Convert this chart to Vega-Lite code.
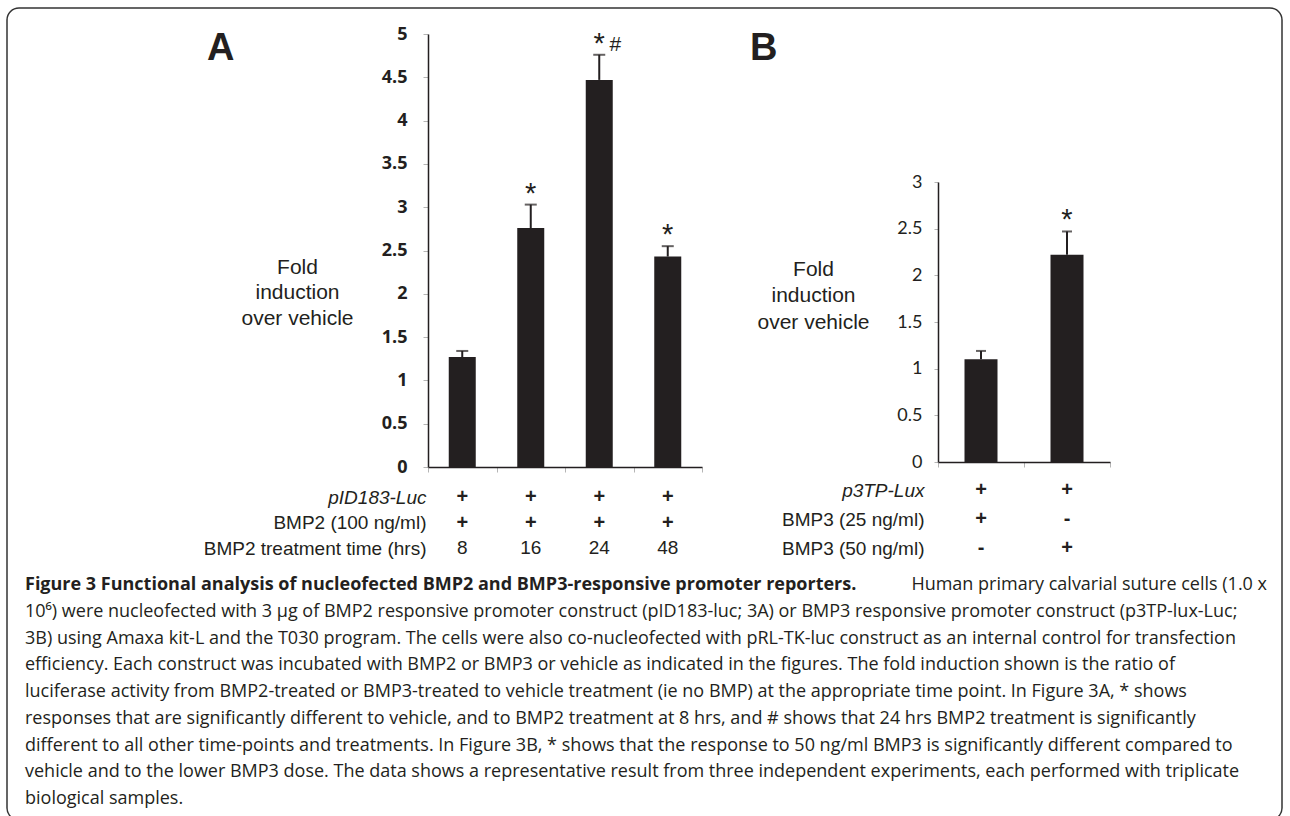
{
  "$schema": "https://vega.github.io/schema/vega-lite/v6.json",
  "width": 1275,
  "height": 812,
  "autosize": {"type": "none"},
  "padding": {"left": 7, "top": 8, "right": 8, "bottom": -4},
  "background": "#ffffff",
  "config": {
    "view": {"stroke": "#333333", "strokeWidth": 1.5, "cornerRadius": 12},
    "axis": {"grid": false, "domainColor": "#231f20", "domainWidth": 1.5, "tickColor": "#b5b5b5", "tickWidth": 1, "labelColor": "#231f20", "titleColor": "#231f20"},
    "text": {"color": "#231f20"}
  },
  "datasets": {
    "bmp2": [
      {"time": "8", "fold": 1.27, "upper": 1.34, "sig": "", "sig2": ""},
      {"time": "16", "fold": 2.76, "upper": 3.03, "sig": "*", "sig2": ""},
      {"time": "24", "fold": 4.47, "upper": 4.76, "sig": "*", "sig2": "#"},
      {"time": "48", "fold": 2.43, "upper": 2.55, "sig": "*", "sig2": ""}
    ],
    "bmp3": [
      {"dose": "25 ng/ml", "fold": 1.10, "upper": 1.19, "sig": ""},
      {"dose": "50 ng/ml", "fold": 2.22, "upper": 2.47, "sig": "*"}
    ],
    "tableA": [
      {"row": "pID183-Luc", "time": "8", "value": "+"},
      {"row": "pID183-Luc", "time": "16", "value": "+"},
      {"row": "pID183-Luc", "time": "24", "value": "+"},
      {"row": "pID183-Luc", "time": "48", "value": "+"},
      {"row": "BMP2 (100 ng/ml)", "time": "8", "value": "+"},
      {"row": "BMP2 (100 ng/ml)", "time": "16", "value": "+"},
      {"row": "BMP2 (100 ng/ml)", "time": "24", "value": "+"},
      {"row": "BMP2 (100 ng/ml)", "time": "48", "value": "+"},
      {"row": "BMP2 treatment time (hrs)", "time": "8", "value": "8"},
      {"row": "BMP2 treatment time (hrs)", "time": "16", "value": "16"},
      {"row": "BMP2 treatment time (hrs)", "time": "24", "value": "24"},
      {"row": "BMP2 treatment time (hrs)", "time": "48", "value": "48"}
    ],
    "tableB": [
      {"row": "p3TP-Lux", "dose": "25 ng/ml", "value": "+"},
      {"row": "p3TP-Lux", "dose": "50 ng/ml", "value": "+"},
      {"row": "BMP3 (25 ng/ml)", "dose": "25 ng/ml", "value": "+"},
      {"row": "BMP3 (25 ng/ml)", "dose": "50 ng/ml", "value": "-"},
      {"row": "BMP3 (50 ng/ml)", "dose": "25 ng/ml", "value": "-"},
      {"row": "BMP3 (50 ng/ml)", "dose": "50 ng/ml", "value": "+"}
    ],
    "panels": [{"panel": "A"}, {"panel": "B"}],
    "captionLead": [
      {"line": 1, "text": "Figure 3 Functional analysis of nucleofected BMP2 and BMP3-responsive promoter reporters."}
    ],
    "captionEnd": [
      {"line": 1, "text": "Human primary calvarial suture cells (1.0 x"}
    ],
    "captionBody": [
      {"line": 2, "text": "10⁶) were nucleofected with 3 µg of BMP2 responsive promoter construct (pID183-luc; 3A) or BMP3 responsive promoter construct (p3TP-lux-Luc;"},
      {"line": 3, "text": "3B) using Amaxa kit-L and the T030 program. The cells were also co-nucleofected with pRL-TK-luc construct as an internal control for transfection"},
      {"line": 4, "text": "efficiency. Each construct was incubated with BMP2 or BMP3 or vehicle as indicated in the figures. The fold induction shown is the ratio of"},
      {"line": 5, "text": "luciferase activity from BMP2-treated or BMP3-treated to vehicle treatment (ie no BMP) at the appropriate time point. In Figure 3A, * shows"},
      {"line": 6, "text": "responses that are significantly different to vehicle, and to BMP2 treatment at 8 hrs, and # shows that 24 hrs BMP2 treatment is significantly"},
      {"line": 7, "text": "different to all other time-points and treatments. In Figure 3B, * shows that the response to 50 ng/ml BMP3 is significantly different compared to"},
      {"line": 8, "text": "vehicle and to the lower BMP3 dose. The data shows a representative result from three independent experiments, each performed with triplicate"},
      {"line": 9, "text": "biological samples."}
    ]
  },
  "layer": [
    {
      "data": {"name": "bmp2"},
      "encoding": {
        "x": {
          "field": "time", "type": "ordinal", "sort": ["8", "16", "24", "48"],
          "scale": {"domain": ["8", "16", "24", "48"], "range": [421, 695], "paddingInner": 0, "paddingOuter": 0},
          "axis": {"orient": "bottom", "offset": -353, "labels": false, "title": null, "tickSize": 5, "tickBand": "extent"}
        }
      },
      "layer": [
        {
          "mark": {"type": "bar", "color": "#231f20", "width": 27},
          "encoding": {
            "y": {
              "field": "fold", "type": "quantitative",
              "scale": {"domain": [0, 5], "range": [459, 26], "nice": false, "zero": true},
              "axis": {
                "orient": "left", "offset": -421,
                "values": [0, 0.5, 1, 1.5, 2, 2.5, 3, 3.5, 4, 4.5, 5], "format": "~g",
                "labelFont": "Open Sans", "labelFontWeight": "bold", "labelFontSize": 18,
                "tickSize": 5, "labelPadding": 16,
                "title": ["Fold", "induction", "over vehicle"],
                "titleFont": "Liberation Sans", "titleFontSize": 21, "titleFontWeight": "normal",
                "titleAngle": 0, "titleAlign": "center", "titleBaseline": "middle",
                "titleX": -131, "titleY": 259, "titleLineHeight": 25.5
              }
            }
          }
        },
        {
          "mark": {"type": "rule", "color": "#231f20", "strokeWidth": 2},
          "encoding": {"y": {"field": "fold", "type": "quantitative"}, "y2": {"field": "upper"}}
        },
        {
          "mark": {"type": "tick", "color": "#231f20", "thickness": 2, "size": 12},
          "encoding": {"y": {"field": "upper", "type": "quantitative"}}
        },
        {
          "mark": {"type": "text", "font": "Liberation Sans", "fontSize": 29, "baseline": "alphabetic", "dy": -2},
          "encoding": {"y": {"field": "upper", "type": "quantitative"}, "text": {"field": "sig"}}
        },
        {
          "mark": {"type": "text", "font": "Liberation Sans", "fontSize": 21, "baseline": "alphabetic", "dx": 16, "dy": -4},
          "encoding": {"y": {"field": "upper", "type": "quantitative"}, "text": {"field": "sig2"}}
        }
      ]
    },
    {
      "data": {"name": "tableA"},
      "encoding": {
        "x": {
          "field": "time", "type": "ordinal",
          "scale": {"domain": ["8", "16", "24", "48"], "range": [421, 695], "paddingInner": 0, "paddingOuter": 0},
          "axis": null
        },
        "y": {
          "field": "row", "type": "ordinal",
          "scale": {"type": "point", "domain": ["pID183-Luc", "BMP2 (100 ng/ml)", "BMP2 treatment time (hrs)"], "range": [489, 540], "padding": 0},
          "axis": {
            "orient": "left", "offset": -421, "domain": false, "ticks": false, "tickSize": 0, "title": null,
            "labelFont": "Liberation Sans", "labelFontSize": 19, "labelPadding": 2, "labelLimit": 400,
            "labelFontStyle": {"condition": {"test": "datum.value === 'pID183-Luc'", "value": "italic"}, "value": "normal"}
          }
        },
        "text": {"field": "value"}
      },
      "layer": [
        {
          "transform": [{"filter": "datum.value === '+' || datum.value === '-'"}],
          "mark": {"type": "text", "font": "Liberation Sans", "fontSize": 20, "fontWeight": "bold", "baseline": "middle"}
        },
        {
          "transform": [{"filter": "datum.value !== '+' && datum.value !== '-'"}],
          "mark": {"type": "text", "font": "Liberation Sans", "fontSize": 19, "baseline": "middle"}
        }
      ]
    },
    {
      "data": {"name": "bmp3"},
      "encoding": {
        "x": {
          "field": "dose", "type": "ordinal",
          "scale": {"domain": ["25 ng/ml", "50 ng/ml"], "range": [931, 1103], "paddingInner": 0, "paddingOuter": 0},
          "axis": {"orient": "bottom", "offset": -358, "labels": false, "title": null, "tickSize": 5, "tickBand": "extent"}
        }
      },
      "layer": [
        {
          "mark": {"type": "bar", "color": "#231f20", "width": 33},
          "encoding": {
            "y": {
              "field": "fold", "type": "quantitative",
              "scale": {"domain": [0, 3], "range": [454, 174], "nice": false, "zero": true},
              "axis": {
                "orient": "left", "offset": -931,
                "values": [0, 0.5, 1, 1.5, 2, 2.5, 3], "format": "~g",
                "labelFont": "Lato", "labelFontWeight": "normal", "labelFontSize": 18,
                "tickSize": 4, "labelPadding": 12,
                "title": ["Fold", "induction", "over vehicle"],
                "titleFont": "Liberation Sans", "titleFontSize": 21, "titleFontWeight": "normal",
                "titleAngle": 0, "titleAlign": "center", "titleBaseline": "middle",
                "titleX": -125, "titleY": 261, "titleLineHeight": 26.5
              }
            }
          }
        },
        {
          "mark": {"type": "rule", "color": "#231f20", "strokeWidth": 2},
          "encoding": {"y": {"field": "fold", "type": "quantitative"}, "y2": {"field": "upper"}}
        },
        {
          "mark": {"type": "tick", "color": "#231f20", "thickness": 2, "size": 10},
          "encoding": {"y": {"field": "upper", "type": "quantitative"}}
        },
        {
          "mark": {"type": "text", "font": "Liberation Sans", "fontSize": 29, "baseline": "alphabetic", "dy": -2},
          "encoding": {"y": {"field": "upper", "type": "quantitative"}, "text": {"field": "sig"}}
        }
      ]
    },
    {
      "data": {"name": "tableB"},
      "encoding": {
        "x": {
          "field": "dose", "type": "ordinal",
          "scale": {"domain": ["25 ng/ml", "50 ng/ml"], "range": [931, 1103], "paddingInner": 0, "paddingOuter": 0},
          "axis": null
        },
        "y": {
          "field": "row", "type": "ordinal",
          "scale": {"type": "point", "domain": ["p3TP-Lux", "BMP3 (25 ng/ml)", "BMP3 (50 ng/ml)"], "range": [482, 540], "padding": 0},
          "axis": {
            "orient": "left", "offset": -931, "domain": false, "ticks": false, "tickSize": 0, "title": null,
            "labelFont": "Liberation Sans", "labelFontSize": 19, "labelPadding": 14, "labelLimit": 400,
            "labelFontStyle": {"condition": {"test": "datum.value === 'p3TP-Lux'", "value": "italic"}, "value": "normal"}
          }
        },
        "text": {"field": "value"}
      },
      "layer": [
        {
          "mark": {"type": "text", "font": "Liberation Sans", "fontSize": 20, "fontWeight": "bold", "baseline": "middle"}
        }
      ]
    },
    {
      "data": {"name": "panels"},
      "mark": {"type": "text", "font": "Liberation Sans", "fontSize": 38, "fontWeight": "bold", "align": "left", "baseline": "alphabetic"},
      "encoding": {
        "x": {"field": "panel", "type": "nominal", "scale": {"type": "point", "domain": ["A", "B"], "range": [200, 743], "padding": 0}, "axis": null},
        "y": {"field": "panel", "type": "nominal", "scale": {"type": "point", "domain": ["A", "B"], "range": [52, 52], "padding": 0}, "axis": null},
        "text": {"field": "panel"}
      }
    },
    {
      "encoding": {
        "y": {"field": "line", "type": "ordinal", "scale": {"type": "point", "domain": [1, 2, 3, 4, 5, 6, 7, 8, 9], "range": [577, 791], "padding": 0}, "axis": null},
        "text": {"field": "text"}
      },
      "layer": [
        {
          "data": {"name": "captionLead"},
          "mark": {"type": "text", "font": "Open Sans", "fontSize": 18, "fontWeight": "bold", "align": "left", "baseline": "middle"},
          "encoding": {"x": {"datum": 0, "type": "quantitative", "scale": {"domain": [0, 1], "range": [18, 1260]}, "axis": null}}
        },
        {
          "data": {"name": "captionEnd"},
          "mark": {"type": "text", "font": "Open Sans", "fontSize": 18, "align": "right", "baseline": "middle"},
          "encoding": {"x": {"datum": 1, "type": "quantitative"}}
        },
        {
          "data": {"name": "captionBody"},
          "mark": {"type": "text", "font": "Open Sans", "fontSize": 18, "align": "left", "baseline": "middle"},
          "encoding": {"x": {"datum": 0, "type": "quantitative"}}
        }
      ]
    }
  ],
  "resolve": {"scale": {"x": "independent", "y": "independent"}, "axis": {"x": "independent", "y": "independent"}}
}
